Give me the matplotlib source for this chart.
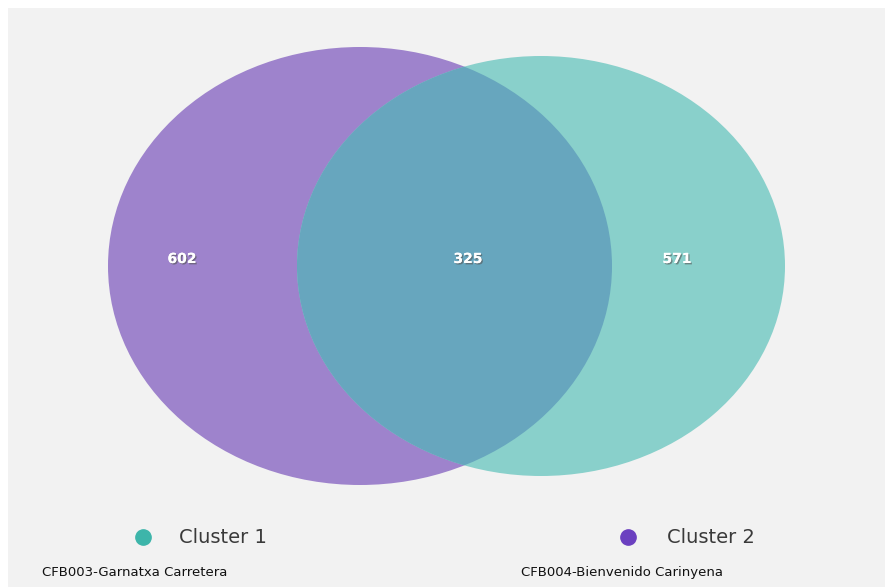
import matplotlib.pyplot as plt
from matplotlib.patches import Ellipse, Rectangle
import matplotlib.patheffects as pe

# venn data
set_names = ["Cluster 1", "Cluster 2"]
set_samples = ["CFB003-Garnatxa Carretera", "CFB004-Bienvenido Carinyena"]
only_left = 602
shared = 325
only_right = 571

col_left = "#9e83cc"
col_right = "#89d0cb"
col_both = "#67a6be"
dot_cols = ["#3db5aa", "#6b40c0"]

fig = plt.figure(figsize=(8.85, 5.87), dpi=100)
ax = fig.add_axes([0, 0, 1, 1])
ax.set_xlim(0, 885)
ax.set_ylim(587, 0)
ax.axis("off")
fig.patch.set_facecolor("white")

# grey panel
ax.add_patch(Rectangle((8, 8), 885, 587, facecolor="#f2f2f2", edgecolor="none"))

left = Ellipse((360, 266), 504, 438, facecolor=col_left, edgecolor="none")
right = Ellipse((541, 266), 488, 420, facecolor=col_right, edgecolor="none")
ax.add_patch(left)
ax.add_patch(right)
# intersection, clipped to left one
both = Ellipse((541, 266), 488, 420, facecolor=col_both, edgecolor="none")
ax.add_patch(both)
both.set_clip_path(left)

shadow = [pe.withSimplePatchShadow(offset=(1, -1), shadow_rgbFace="#555555", alpha=0.6),
          pe.Normal()]
for x, v in [(182, only_left), (468, shared), (677, only_right)]:
    ax.text(x, 259, str(v), color="white", fontsize=10, fontweight="bold",
            ha="center", va="center", path_effects=shadow)

# legend
for i, (dx, tx) in enumerate([(143, 179), (628, 667)]):
    ax.plot(dx, 537, "o", color=dot_cols[i], markersize=11)
    ax.text(tx, 543, set_names[i], fontsize=14, color="#3a3a3a", va="baseline",
            ha="left", family="DejaVu Sans")

ax.text(42, 576, set_samples[0], fontsize=9.5, color="#111111", va="baseline", ha="left",
        family="DejaVu Sans")
ax.text(521, 576, set_samples[1], fontsize=9.5, color="#111111", va="baseline", ha="left",
        family="DejaVu Sans")

fig.savefig("out.png", dpi=100, facecolor="white")
